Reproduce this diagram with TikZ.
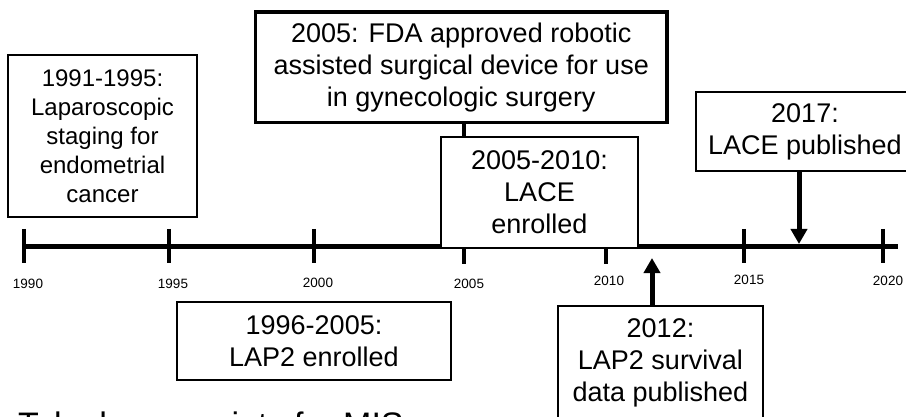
\documentclass[tikz,border=0pt]{standalone}
\usepackage{fontspec}
\setmainfont{Liberation Sans}
\usetikzlibrary{arrows.meta}
\begin{document}
\begin{tikzpicture}[x=1pt,y=-1pt,
  box/.style={draw, line width=1.3pt, fill=white, align=center, inner sep=0pt,
              font=\fontsize{27}{32}\selectfont},
  bigbox/.style={box, line width=3.5pt},
  smallbox/.style={box, font=\fontsize{24}{29}\selectfont},
  year/.style={font=\fontsize{13.5}{15}\selectfont, inner sep=0pt},
  tickmark/.style={line width=4pt},
  axisline/.style={line width=5.5pt},
  arr/.style={line width=5pt, -{Triangle[length=15pt,width=16pt]}},
  joinline/.style={line width=4pt},
]
\useasboundingbox (0,0) rectangle (906,417);
\clip (0,0) rectangle (906,417);

% time axis with its ticks
\foreach \x/\n in {24/1990,169/1995,314/2000,464/2005,606/2010,744/2015,883/2020}{
  \coordinate (t\n) at (\x,246.5);
  \draw[tickmark] (\x,229) -- (\x,263);
}
\coordinate (axisend) at (898,246.5);
\draw[axisline] (t1990) -- (axisend);

% year labels
\node[year] (y1990) at (28,284) {1990};
\node[year] (y1995) at (173,284) {1995};
\node[year] (y2000) at (318,283) {2000};
\node[year] (y2005) at (469,284) {2005};
\node[year] (y2010) at (609,281) {2010};
\node[year] (y2015) at (749,280) {2015};
\node[year] (y2020) at (888,281) {2020};

% event boxes
\node[smallbox, minimum width=189pt, minimum height=162pt] (blap) at (102.5,136)
  {1991-1995:\\Laparoscopic\\staging for\\endometrial\\cancer};
\node[bigbox, minimum width=411.5pt, minimum height=110.5pt] (bfda) at (461.25,67.25)
  {2005: FDA approved robotic\\assisted surgical device for use\\in gynecologic surgery};
\draw[joinline] (bfda.south -| t2005) -- ++(0,16) coordinate (fdajoin);
\node[box, minimum width=197pt, minimum height=111pt] (blace) at (539.5,192.5)
  {2005-2010:\\LACE\\enrolled};
\draw[tickmark] (t2005 |- blace.south) -- ++(0,15);
\draw[tickmark] (t2010 |- blace.south) -- ++(0,15);
\node[box, minimum width=218pt, minimum height=79pt] (b2017) at (805,131.5)
  {2017:\\LACE published};
\node[box, minimum width=274pt, minimum height=78pt] (blap2) at (314,341)
  {1996-2005:\\LAP2 enrolled};
\node[box, minimum width=205pt, minimum height=114pt] (b2012) at (660.5,363)
  {2012:\\LAP2 survival\\data published};

% arrows to the axis
\coordinate (p2017) at (799,244);
\draw[arr] (b2017.south -| p2017) -- (p2017);
\coordinate (p2012) at (652,258);
\draw[arr] (b2012.north -| p2012) -- (p2012);

% heading below the timeline
\node[anchor=base west, inner sep=0pt, font=\fontsize{34}{40}\selectfont] (takehome)
  at (18,436) {Take home points for MIS};
\end{tikzpicture}
\end{document}
